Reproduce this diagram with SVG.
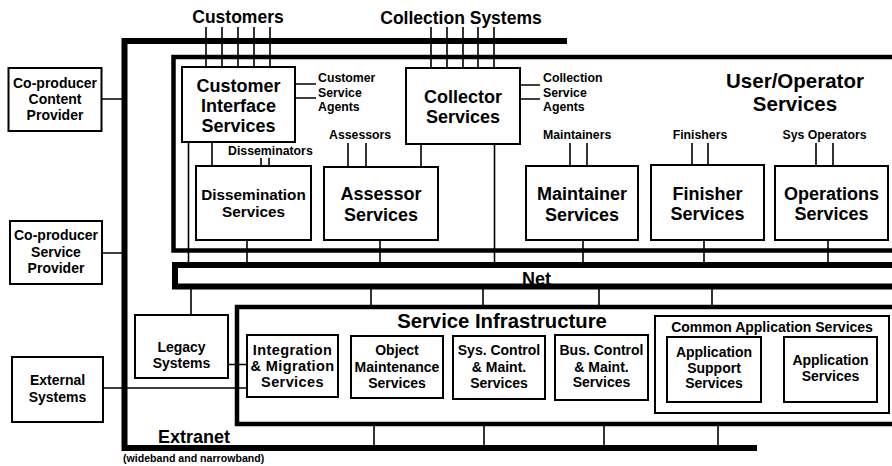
<svg xmlns="http://www.w3.org/2000/svg" width="892" height="466" viewBox="0 0 892 466">
<style>
text{font-family:"Liberation Sans",Arial,sans-serif;font-weight:bold;fill:#000}
.c{text-anchor:middle}
.box{fill:#fff;stroke:#000;stroke-width:2}
.thin{fill:none;stroke:#000;stroke-width:1.6}
.bus{fill:none;stroke:#000;stroke-width:6}
.frame{fill:none;stroke:#000;stroke-width:4.5}
.t14{font-size:14px}
.t18{font-size:18px}
.lbl{font-size:12.3px}
.big{font-size:17.5px}
</style>
<rect width="892" height="466" fill="#fff"/>

<!-- Containers -->
<g id="extranet">
<path class="bus" d="M567,41 H124.5 V448 H757"/>
<text x="158" y="443" font-size="18">Extranet</text>
<text x="123" y="462" font-size="10.6">(wideband and narrowband)</text>
</g>
<g id="user-operator-services">
<path class="frame" d="M900,57 H173.5 V250.5 H900"/>
<text class="c" x="795" y="88" font-size="20.5">User/Operator</text>
<text class="c" x="795" y="111" font-size="20.5">Services</text>
</g>
<g id="net">
<rect x="175" y="265" width="730" height="21.5" fill="none" stroke="#000" stroke-width="6"/>
<text x="522" y="285" font-size="18">Net</text>
</g>
<g id="service-infrastructure">
<path class="frame" d="M900,307 H237 V424 H900"/>
<text class="c" x="502" y="328" font-size="20.3">Service Infrastructure</text>
</g>

<!-- Connectors -->
<g id="connectors" class="thin">
<path d="M206,27V67M222,27V67M238,27V67M254,27V67M270,27V67"/>
<path d="M431,27V68M447,27V68M463,27V68M478,27V68M494,27V68"/>
<path d="M295,84H316M295,98H316M520,85H540M520,99H540"/>
<path d="M261,158V166M269,158V166"/>
<path d="M348,143V167M366,143V167"/>
<path d="M570,143V166M587,143V166"/>
<path d="M692,143V165M708,143V165"/>
<path d="M816,143V166M833,143V166"/>
<path d="M212,142V166M421,144V167"/>
<path d="M188.5,142V262M247,240V262M380,240V262M494.5,144V262M583,240V262M704,240V262M828,240V262"/>
<path d="M371,289V307M483,289V307M599,289V307M712,289V307M191,289V315"/>
<path d="M374,424V447M484,424V447M604,424V447M718,424V447"/>
<path d="M101.5,99H124M102,253H124M103,388H247M228,364.5H247"/>
</g>

<!-- Outside nodes -->
<g id="co-producer-content-provider">
<rect class="box" x="8.5" y="68" width="93" height="63"/>
<text class="c t14" x="55" y="88">Co-producer</text>
<text class="c t14" x="55" y="104">Content</text>
<text class="c t14" x="55" y="120">Provider</text>
</g>
<g id="co-producer-service-provider">
<rect class="box" x="10" y="221" width="92" height="63"/>
<text class="c t14" x="56" y="240">Co-producer</text>
<text class="c t14" x="56" y="257">Service</text>
<text class="c t14" x="56" y="273">Provider</text>
</g>
<g id="external-systems">
<rect class="box" x="12" y="357" width="91" height="65"/>
<text class="c t14" x="57.5" y="385">External</text>
<text class="c t14" x="57.5" y="402">Systems</text>
</g>
<g id="legacy-systems">
<rect class="box" x="135" y="315" width="93" height="63"/>
<text class="c t14" x="181.5" y="352">Legacy</text>
<text class="c t14" x="181.5" y="368">Systems</text>
</g>

<!-- Labels -->
<g id="customers"><text class="c big" x="238" y="23">Customers</text></g>
<g id="collection-systems"><text class="c big" x="461" y="24">Collection Systems</text></g>
<g id="customer-service-agents">
<text class="lbl" x="318" y="82">Customer</text>
<text class="lbl" x="318" y="96.5">Service</text>
<text class="lbl" x="318" y="111">Agents</text>
</g>
<g id="collection-service-agents">
<text class="lbl" x="543" y="82">Collection</text>
<text class="lbl" x="543" y="96.5">Service</text>
<text class="lbl" x="543" y="111">Agents</text>
</g>
<g id="disseminators"><text class="lbl" x="228" y="155">Disseminators</text></g>
<g id="assessors"><text class="lbl" x="329" y="139">Assessors</text></g>
<g id="maintainers"><text class="lbl" x="543" y="139">Maintainers</text></g>
<g id="finishers"><text class="lbl c" x="700" y="139">Finishers</text></g>
<g id="sys-operators"><text class="lbl c" x="824.5" y="139">Sys Operators</text></g>

<!-- User/Operator nodes -->
<g id="customer-interface-services">
<rect class="box" x="182" y="67" width="113" height="75"/>
<text class="c t18" x="238.5" y="92">Customer</text>
<text class="c t18" x="238.5" y="112">Interface</text>
<text class="c t18" x="238.5" y="132">Services</text>
</g>
<g id="collector-services">
<rect class="box" x="406" y="68" width="114" height="76"/>
<text class="c t18" x="463" y="103">Collector</text>
<text class="c t18" x="463" y="123">Services</text>
</g>
<g id="dissemination-services">
<rect class="box" x="196" y="166" width="115" height="74"/>
<text class="c" x="253.5" y="200" font-size="15.3">Dissemination</text>
<text class="c" x="253.5" y="217" font-size="15.3">Services</text>
</g>
<g id="assessor-services">
<rect class="box" x="324" y="167" width="114" height="73"/>
<text class="c t18" x="381" y="200">Assessor</text>
<text class="c t18" x="381" y="221">Services</text>
</g>
<g id="maintainer-services">
<rect class="box" x="526" y="166" width="112" height="74"/>
<text class="c t18" x="582" y="200">Maintainer</text>
<text class="c t18" x="582" y="221">Services</text>
</g>
<g id="finisher-services">
<rect class="box" x="651" y="165" width="113" height="75"/>
<text class="c t18" x="707.5" y="200">Finisher</text>
<text class="c t18" x="707.5" y="220">Services</text>
</g>
<g id="operations-services">
<rect class="box" x="775" y="166" width="113" height="74"/>
<text class="c t18" x="831.5" y="200">Operations</text>
<text class="c t18" x="831.5" y="220">Services</text>
</g>

<!-- Service Infrastructure nodes -->
<g id="integration-migration-services">
<rect class="box" x="247" y="335" width="91" height="62"/>
<text class="c" x="292.5" y="355" font-size="14.5" letter-spacing="0.4">Integration</text>
<text class="c" x="292.5" y="371" font-size="14.5" letter-spacing="0.4">&amp; Migration</text>
<text class="c" x="292.5" y="387" font-size="14.5" letter-spacing="0.4">Services</text>
</g>
<g id="object-maintenance-services">
<rect class="box" x="351" y="336" width="92" height="62"/>
<text class="c t14" x="397" y="355">Object</text>
<text class="c t14" x="397" y="372">Maintenance</text>
<text class="c t14" x="397" y="388">Services</text>
</g>
<g id="sys-control-maint-services">
<rect class="box" x="453" y="336" width="92" height="63"/>
<text class="c t14" x="499" y="355">Sys. Control</text>
<text class="c t14" x="499" y="372">&amp; Maint.</text>
<text class="c t14" x="499" y="388">Services</text>
</g>
<g id="bus-control-maint-services">
<rect class="box" x="555" y="335" width="93" height="65"/>
<text class="c t14" x="601.5" y="355">Bus. Control</text>
<text class="c t14" x="601.5" y="372">&amp; Maint.</text>
<text class="c t14" x="601.5" y="387">Services</text>
</g>
<g id="common-application-services">
<rect class="box" x="655" y="316" width="234" height="97"/>
<text class="c t14" x="772" y="332">Common Application Services</text>
</g>
<g id="application-support-services">
<rect class="box" x="667" y="337" width="94" height="65"/>
<text class="c t14" x="714" y="357">Application</text>
<text class="c t14" x="714" y="373">Support</text>
<text class="c t14" x="714" y="388">Services</text>
</g>
<g id="application-services">
<rect class="box" x="784" y="337" width="93" height="65"/>
<text class="c t14" x="830.5" y="365">Application</text>
<text class="c t14" x="830.5" y="381">Services</text>
</g>
</svg>
